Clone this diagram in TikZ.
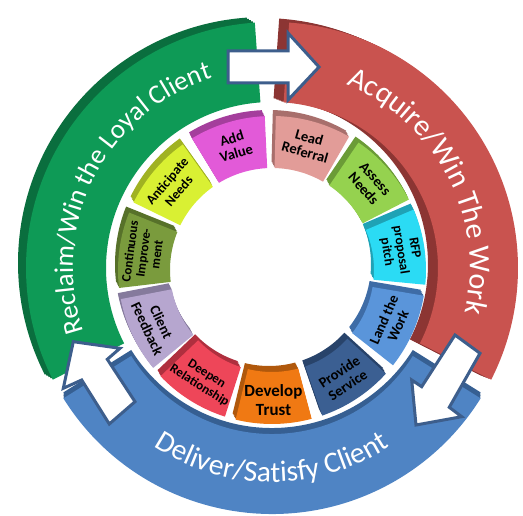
\documentclass[tikz,border=0pt]{standalone}
\usepackage{fontspec}
\setmainfont{Carlito}
\usetikzlibrary{decorations.text}
\definecolor{grnF}{HTML}{0E9A56}
\definecolor{grnD}{HTML}{0A6E3E}
\definecolor{redF}{HTML}{C9534F}
\definecolor{redD}{HTML}{8C3533}
\definecolor{bluF}{HTML}{4F84C4}
\definecolor{bluD}{HTML}{365F92}
\definecolor{arrC}{HTML}{3D5E8C}
\definecolor{avF}{HTML}{E25AD8}\definecolor{avD}{HTML}{A43E9C}
\definecolor{lrF}{HTML}{E29C98}\definecolor{lrD}{HTML}{A86F6C}
\definecolor{anF}{HTML}{95D24F}\definecolor{anD}{HTML}{6B9B37}
\definecolor{rfF}{HTML}{2BDBF4}\definecolor{rfD}{HTML}{1FA2B5}
\definecolor{lwF}{HTML}{5A95DA}\definecolor{lwD}{HTML}{3E6CA6}
\definecolor{psF}{HTML}{3B5F92}\definecolor{psD}{HTML}{28436A}
\definecolor{dtF}{HTML}{F07913}\definecolor{dtD}{HTML}{B0580C}
\definecolor{drF}{HTML}{EE4659}\definecolor{drD}{HTML}{AF2F3E}
\definecolor{cfF}{HTML}{B6A6CF}\definecolor{cfD}{HTML}{857A9C}
\definecolor{ciF}{HTML}{7A9B3D}\definecolor{ciD}{HTML}{57712A}
\definecolor{atF}{HTML}{D9F033}\definecolor{atD}{HTML}{A0B222}
\tikzset{
  sec/.style n args={4}{insert path={(#1:#4) arc[start angle=#1,end angle=#2,radius=#4] -- (#2:#3) arc[start angle=#2,end angle=#1,radius=#3] -- cycle}},
  blockarrow/.style={fill=white, draw=arrC, line width=3pt, line join=miter},
  tiletext/.style={text=black, align=center, font=\bfseries\fontsize{14.5}{15.5}\selectfont, inner sep=0pt},
  ringtext/.style 2 args={decorate, decoration={text along path, text align=center, text color=white, text={|\fontsize{#1}{#1}\selectfont|#2}}}
}
\newcommand\tile[7][]{%
  \foreach \k in {1,0.75,0.5,0.25}{\fill[#4, shift={({-3*\k},{6*\k})}, sec={#2+14.3}{#2-14.3}{102}{154}];}
  \fill[#3, sec={#2+14.3}{#2-14.3}{102}{154}];
  \node[tiletext, rotate=#6, #1] (#5) at (#2:130) {#7};
}
\begin{document}
\begin{tikzpicture}[x=1pt,y=1pt]
\useasboundingbox (0,0) rectangle (523,-516);
\coordinate (C) at (272,-268);
\begin{scope}[shift={(272,-268)}]
  % outer ring segments with extrusion
  \foreach \k in {1,0.75,0.5,0.25}{\fill[grnD, shift={({-8*\k},{5*\k})}, sec={94}{207}{166}{246}];}
  \fill[grnF, sec={94}{207}{166}{246}];
  \foreach \k in {1,0.75,0.5,0.25}{\fill[redD, shift={({-10*\k},{4*\k})}, sec={86}{-27}{166}{246}];}
  \fill[redF, sec={86}{-27}{166}{246}];
  \foreach \k in {1,0.75,0.5,0.25}{\fill[bluD, shift={(0,{6*\k})}, sec={212}{328}{166}{246}];}
  \fill[bluF, sec={212}{328}{166}{246}];
  % ring texts
  \path[ringtext={30}{Acquire/Win The Work}] (87.5:198) arc[start angle=87.5, end angle=-32.5, radius=198];
  \path[ringtext={27}{Reclaim/Win the Loyal Client}] (213:199) arc[start angle=213, end angle=93, radius=199];
  \path[ringtext={29.5}{Deliver/Satisfy Client}] (210:214) arc[start angle=210, end angle=330, radius=214];
\end{scope}
\begin{scope}[shift={(272,-270)}]
  \tile{107}{avF}{avD}{av}{17}{Add\\Value}
  \tile{74.27}{lrF}{lrD}{lr}{-15.7}{Lead\\Referral}
  \tile{41.54}{anF}{anD}{an}{-48.5}{Assess\\Needs}
  \tile[font=\bfseries\fontsize{13.5}{14}\selectfont]{8.81}{rfF}{rfD}{rf}{-81.2}{RFP\\proposal\\pitch}
  \tile{-23.92}{lwF}{lwD}{lw}{66.1}{Land the\\Work}
  \tile{-56.65}{psF}{psD}{ps}{33.35}{Provide\\Service}
  \tile[font=\bfseries\fontsize{17}{19}\selectfont]{-89.38}{dtF}{dtD}{dt}{0.6}{Develop\\Trust}
  \tile[font=\bfseries\fontsize{13}{14}\selectfont]{-122.1}{drF}{drD}{dr}{-32.1}{Deepen\\Relationship}
  \tile{-154.8}{cfF}{cfD}{cf}{-64.8}{Client\\Feedback}
  \tile[font=\bfseries\fontsize{13}{13.5}\selectfont]{172.4}{ciF}{ciD}{ci}{82.4}{Continuous\\Improve-\\ment}
  \tile[font=\bfseries\fontsize{13.5}{15}\selectfont]{139.7}{atF}{atD}{at}{49.7}{Anticipate\\Needs}
\end{scope}
% block arrows
\draw[blockarrow] (228,-51) -- (288,-51) -- (288,-33) -- (319,-67) -- (288,-100) -- (288,-83) -- (228,-83) -- cycle;
\draw[blockarrow] (455,-335) -- (480,-353.3) -- (449.3,-407.3) -- (461.7,-416.7) -- (416,-425) -- (411.7,-380) -- (421.7,-386.7) -- cycle;
\draw[blockarrow] (73.3,-341.7) -- (120,-348.3) -- (107.3,-359.3) -- (135,-401.7) -- (109.3,-424) -- (81.7,-380) -- (63.3,-388.3) -- cycle;
\end{tikzpicture}
\end{document}
